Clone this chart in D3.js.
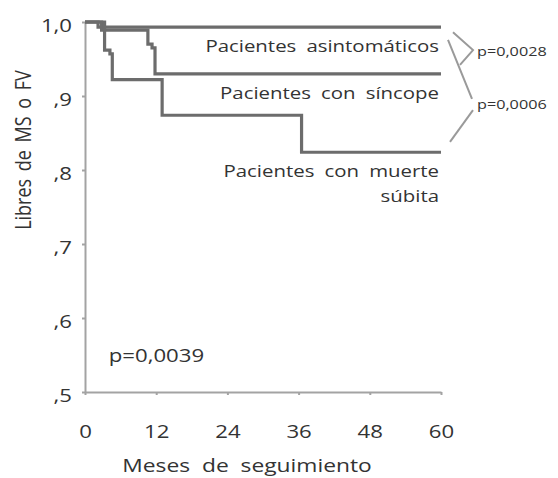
<!DOCTYPE html>
<html>
<head>
<meta charset="utf-8">
<script src="https://cdn.jsdelivr.net/npm/d3@7"></script>
<style>
  body { margin: 0; background: #fff; }
  svg { display: block; }
  text { font-family: "Open Sans", "Noto Sans", sans-serif; fill: #333; }
</style>
</head>
<body>
<div id="chart"></div>
<script>
// Kaplan-Meier: [mes, proporcion libre de MS o FV]
var asintomaticos = [[0, 1], [2.2, 0.993], [60, 0.993]];
var sincope = [[0, 1], [2.8, 0.989], [10.6, 0.970], [11.3, 0.965], [11.8, 0.930], [60, 0.930]];
var muerteSubita = [[0, 1], [3.3, 0.962], [4.2, 0.957], [4.6, 0.922], [13, 0.874], [36.5, 0.824], [60, 0.824]];

var grupos = ["Pacientes asintomáticos", "Pacientes con síncope", ["Pacientes con muerte", "súbita"]];

var xTicks = [0, 12, 24, 36, 48, 60];
var yTicks = [0.5, 0.6, 0.7, 0.8, 0.9, 1.0];
var yTickLabels = [",5", ",6", ",7", ",8", ",9", "1,0"];

var pValores = ["p=0,0028", "p=0,0006", "p=0,0039"];

var width = 558, height = 478;
var sx = 1.2; // el texto del original esta ensanchado

var svg = d3.select("#chart")
    .append("svg")
    .attr("width", width)
    .attr("height", height);

var x = d3.scaleLinear().domain([0, 60]).range([85, 441]);
var y = d3.scaleLinear().domain([0.5, 1]).range([392, 22]);

var axisColor = "#a3a3a3";
var curveColor = "#6c6c6c";

function label(px, py, txt, size, anchor, ws) {
    return svg.append("text")
        .attr("transform", "translate(" + px + "," + py + ") scale(" + sx + ",1)")
        .attr("text-anchor", anchor || "start")
        .attr("font-size", size + "px")
        .style("word-spacing", (ws || 0) + "px")
        .text(txt);
}

// ejes
var xAxis = svg.append("g")
    .attr("transform", "translate(0," + y(0.5) + ")")
    .call(d3.axisBottom(x).tickValues(xTicks).tickSizeInner(3).tickSizeOuter(0).tickPadding(30));

var yAxis = svg.append("g")
    .attr("transform", "translate(" + x(0) + ",0)")
    .call(d3.axisLeft(y).tickValues(yTicks)
        .tickFormat(function(d, i) { return yTickLabels[i]; })
        .tickSizeInner(3).tickSizeOuter(0).tickPadding(10));

[xAxis, yAxis].forEach(function(a) {
    a.select(".domain").attr("stroke", axisColor).attr("stroke-width", 2);
    a.selectAll(".tick line").attr("stroke", axisColor).attr("stroke-width", 2);
    a.selectAll(".tick text")
        .attr("font-size", "18.5px")
        .attr("fill", "#333")
        .attr("font-family", "Open Sans, sans-serif")
        .attr("transform", "scale(" + sx + ",1)");
});
yAxis.selectAll(".tick text").attr("dy", "0.5em").attr("x", -13 / sx);

// curvas
var line = d3.line()
    .x(function(d) { return x(d[0]); })
    .y(function(d) { return y(d[1]); })
    .curve(d3.curveStepAfter);

[asintomaticos, sincope, muerteSubita].forEach(function(serie) {
    svg.append("path")
        .datum(serie)
        .attr("d", line)
        .attr("fill", "none")
        .attr("stroke", curveColor)
        .attr("stroke-width", 3.2);
});

// etiquetas de grupo
var finales = [asintomaticos, sincope, muerteSubita].map(function(s) { return s[s.length - 1][1]; });

grupos.forEach(function(g, i) {
    var lines = Array.isArray(g) ? g : [g];
    lines.forEach(function(l, j) {
        label(x(60) - 2, y(finales[i]) + 25 + j * 25, l, 17, "end", 4);
    });
});

// corchetes de comparacion
var corchetes = [
    [[x(60) + 12, y(0.986)], [x(60) + 32, y(0.962)], [x(60) + 19, y(0.942)]],
    [[x(60) + 7, y(0.976)], [x(60) + 31, y(0.896)]],
    [[x(60) + 32, y(0.881)], [x(60) + 9, y(0.838)]]
];
corchetes.forEach(function(c) {
    svg.append("path")
        .attr("d", d3.line()(c))
        .attr("fill", "none")
        .attr("stroke", "#9a9a9a")
        .attr("stroke-width", 2);
});

label(x(60) + 36, y(0.962) + 6, pValores[0], 13.5);
label(x(60) + 36, y(0.890) + 6, pValores[1], 13.5);
label(x(4), y(0.5) - 30, pValores[2], 18.5);

// titulos de ejes
label(247, 472, "Meses de seguimiento", 19, "middle", 5);

svg.append("text")
    .attr("transform", "translate(31,150) rotate(-90) scale(1," + sx + ")")
    .attr("text-anchor", "middle")
    .attr("font-size", "18px")
    .style("word-spacing", "3px")
    .text("Libres de MS o FV");
</script>
</body>
</html>
